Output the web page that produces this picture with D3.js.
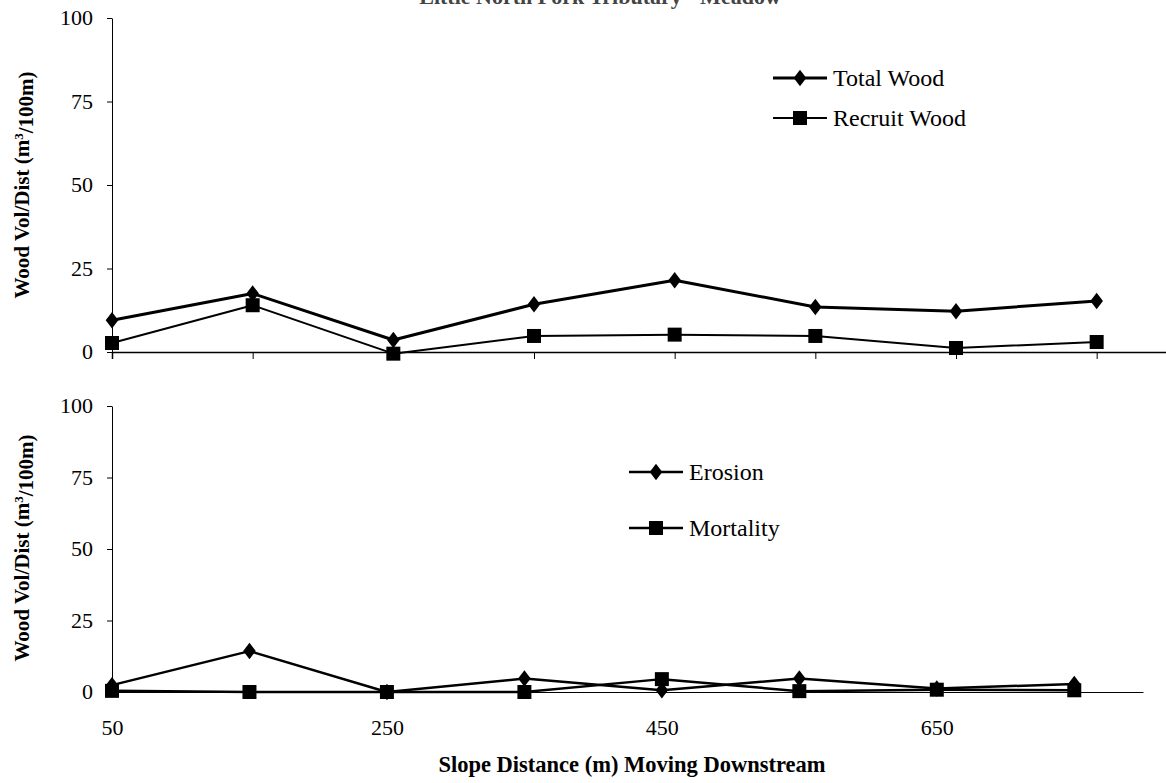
<!DOCTYPE html>
<html lang="en">
<head>
<meta charset="UTF-8">
<script src="https://d3js.org/d3.v7.min.js"></script>
<title>Wood Volume</title>
<style>
body { margin: 0; background: #fff; }
svg { display: block; }
text { font-family: 'Liberation Serif', 'Times New Roman', serif; fill: #000; }
.axis text { font-size: 22px; }
.axis path, .axis line { stroke: #000; }
.title { font-weight: bold; }
</style>
</head>
<body>
<svg id="canvas"></svg>
<script>
// data
let distances = [50, 150, 250, 350, 450, 550, 650, 750]
let totalWood = [9.5, 17.5, 3.6, 14.3, 21.5, 13.5, 12.2, 15.3]
let recruitWood = [2.7, 14, -0.5, 4.8, 5.2, 4.8, 1.2, 3]
let erosion = [2.4, 14.3, 0, 4.7, 0.6, 4.7, 1.2, 2.8]
let mortality = [0.4, 0, 0, 0, 4.5, 0.3, 0.8, 0.6]
let yTicks = [0, 25, 50, 75, 100]
let xLabelTicks = [50, 250, 450, 650]

let width = 1166
let height = 783

let svg = d3.select('#canvas').attr('width', width).attr('height', height)

// chart title, cut off at the top edge like in the source
svg.append('text')
    .attr('class', 'title')
    .attr('x', 600).attr('y', 4)
    .attr('text-anchor', 'middle')
    .style('font-size', '22px')
    .style('fill', '#444')
    .text('Little North Fork Tributary - Meadow')

let diamond = (s) => {
    let w = s * 0.42, h = s * 0.55
    return 'M0,' + (-h) + 'L' + w + ',0L0,' + h + 'L' + (-w) + ',0Z'
}
let square = (s) => {
    let h = s / 2
    return 'M' + (-h) + ',' + (-h) + 'H' + h + 'V' + h + 'H' + (-h) + 'Z'
}

let drawPanel = (cfg) => {
    let xScale = d3.scaleLinear().domain([50, 800]).range(cfg.xRange)
    let yScale = d3.scaleLinear().domain([0, 100]).range(cfg.yRange)

    // x axis
    let xAxis = d3.axisBottom(xScale).tickSizeOuter(0)
    if (cfg.labels) {
        xAxis.tickValues(xLabelTicks).tickSize(0).tickPadding(27).tickFormat(d3.format('d'))
    } else {
        xAxis.tickValues(distances).tickSize(7).tickFormat('')
    }
    let gx = svg.append('g')
        .attr('class', 'axis')
        .attr('transform', 'translate(0,' + yScale(0) + ')')
        .call(xAxis)
    gx.select('.domain').attr('stroke', cfg.xColor).attr('stroke-width', cfg.xWidth)
    gx.selectAll('.tick line').attr('stroke', '#333')

    // y axis
    let gy = svg.append('g')
        .attr('class', 'axis')
        .attr('transform', 'translate(' + cfg.xRange[0] + ',0)')
        .call(d3.axisLeft(yScale).tickValues(yTicks).tickSize(5).tickSizeOuter(0).tickPadding(14))
    gy.selectAll('.tick text').attr('dy', '0.3em')

    // y title
    let yt = svg.append('text')
        .attr('class', 'title')
        .attr('transform', 'translate(29,' + cfg.titleY + ') rotate(-90)')
        .attr('text-anchor', 'middle')
        .style('font-size', '21px')
    yt.append('tspan').text('Wood Vol/Dist (m')
    yt.append('tspan').attr('dy', '-0.5em').style('font-size', '13px').text('3')
    yt.append('tspan').attr('dy', '0.5em').text('/100m)')

    let line = d3.line()
        .x((d, i) => xScale(distances[i]))
        .y((d) => yScale(d))

    cfg.series.forEach((s) => {
        svg.append('path')
            .datum(s.values)
            .attr('d', line)
            .attr('fill', 'none')
            .attr('stroke', '#000')
            .attr('stroke-width', s.lw)
            .attr('stroke-linejoin', 'round')

        svg.selectAll(null)
            .data(s.values)
            .enter()
            .append('path')
            .attr('transform', (d, i) => 'translate(' + xScale(distances[i]) + ',' + yScale(d) + ')')
            .attr('d', s.shape(s.size))
            .attr('fill', '#000')

        // legend entry
        let lg = svg.append('g').attr('transform', 'translate(' + s.legend[0] + ',' + s.legend[1] + ')')
        lg.append('line').attr('x1', 0).attr('x2', 54).attr('stroke', '#000').attr('stroke-width', s.lw)
        lg.append('path').attr('transform', 'translate(27,0)').attr('d', s.shape(s.size)).attr('fill', '#000')
        lg.append('text').attr('x', 60).attr('y', 8).style('font-size', '24px').text(s.name)
    })
}

drawPanel({
    xRange: [112, 1167],
    yRange: [352, 18],
    labels: false,
    xColor: '#777',
    xWidth: 1.5,
    titleY: 185,
    series: [
        { name: 'Total Wood', values: totalWood, shape: diamond, size: 15, lw: 3, legend: [773, 78] },
        { name: 'Recruit Wood', values: recruitWood, shape: square, size: 14, lw: 2, legend: [773, 118] }
    ]
})

drawPanel({
    xRange: [112, 1143],
    yRange: [692, 406],
    labels: true,
    xColor: '#000',
    xWidth: 1,
    titleY: 548,
    series: [
        { name: 'Erosion', values: erosion, shape: diamond, size: 15, lw: 2.5, legend: [629, 472] },
        { name: 'Mortality', values: mortality, shape: square, size: 14, lw: 2.5, legend: [629, 528] }
    ]
})

// x title
svg.append('text')
    .attr('class', 'title')
    .attr('x', 632).attr('y', 772)
    .attr('text-anchor', 'middle')
    .style('font-size', '22.5px')
    .text('Slope Distance (m) Moving Downstream')
</script>
</body>
</html>
